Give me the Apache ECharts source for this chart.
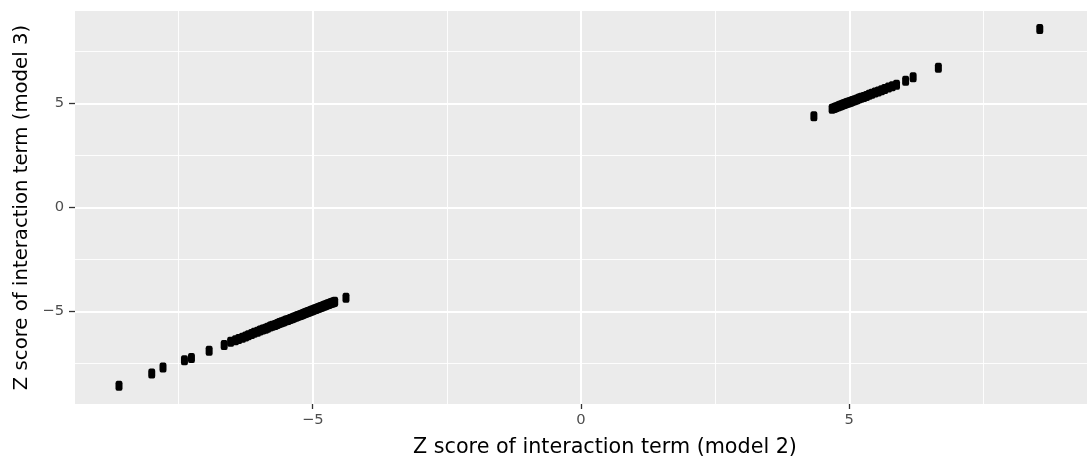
<!DOCTYPE html>
<html>
<head>
<meta charset="utf-8">
<script src="https://cdn.jsdelivr.net/npm/echarts@6/dist/echarts.min.js"></script>
<style>
  html, body { margin: 0; padding: 0; background: #ffffff; }
  #chart { width: 1087px; height: 463px; }
</style>
</head>
<body>
<div id="chart"></div>
<script>
// Z score of interaction term, model 2 (x) and model 3 (y)
const zModel2 = [
  -8.61, -8.00, -7.79, -7.39, -7.26, -6.93, -6.65, -6.53,
  -6.44, -6.38, -6.31, -6.25, -6.20, -6.14, -6.09, -6.03, -5.98, -5.93,
  -5.88, -5.84, -5.79, -5.75, -5.70, -5.66, -5.62, -5.58, -5.54, -5.50,
  -5.46, -5.42, -5.38, -5.35, -5.31, -5.28, -5.24, -5.21, -5.18, -5.15,
  -5.12, -5.09, -5.06, -5.03, -5.00, -4.97, -4.94, -4.91, -4.88, -4.85,
  -4.82, -4.79, -4.76, -4.73, -4.70, -4.67, -4.64, -4.61, -4.59,
  -4.38,
  4.34,
  4.68, 4.72, 4.75, 4.79, 4.82, 4.85, 4.88, 4.91, 4.94, 4.97,
  5.00, 5.03, 5.06, 5.10, 5.14, 5.18, 5.22, 5.27, 5.32, 5.37,
  5.42, 5.48, 5.54, 5.60, 5.66, 5.73, 5.80, 5.88,
  6.05, 6.19, 6.66, 8.55
];
const zModel3 = [
  -8.56, -7.97, -7.69, -7.34, -7.23, -6.88, -6.61, -6.45,
  -6.37, -6.31, -6.25, -6.19, -6.14, -6.08, -6.02, -5.97, -5.91, -5.86,
  -5.82, -5.77, -5.72, -5.68, -5.64, -5.60, -5.55, -5.51, -5.47, -5.43,
  -5.40, -5.36, -5.32, -5.28, -5.25, -5.21, -5.18, -5.15, -5.11, -5.08,
  -5.05, -5.02, -4.99, -4.96, -4.93, -4.90, -4.87, -4.84, -4.81, -4.78,
  -4.75, -4.72, -4.69, -4.66, -4.63, -4.60, -4.57, -4.55, -4.53,
  -4.33,
  4.39,
  4.75, 4.79, 4.82, 4.86, 4.89, 4.92, 4.95, 4.98, 5.01, 5.04,
  5.06, 5.09, 5.12, 5.16, 5.20, 5.24, 5.28, 5.32, 5.37, 5.42,
  5.47, 5.53, 5.58, 5.64, 5.70, 5.77, 5.83, 5.91,
  6.10, 6.26, 6.72, 8.59
];

const xTicks = [-5, 0, 5];
const yTicks = [-5, 0, 5];
const xMinorGrid = [-7.5, -2.5, 2.5, 7.5];
const yMinorGrid = [-7.5, -2.5, 2.5, 7.5];

const xTitle = 'Z score of interaction term (model 2)';
const yTitle = 'Z score of interaction term (model 3)';

const points = zModel2.map((x, i) => [x, zModel3[i]]);
const fmt = v => (v < 0 ? '\u2212' + Math.abs(v) : String(v));
const FONT = '"DejaVu Sans", "Liberation Sans", Arial, sans-serif';

const minorLines = []
  .concat(xMinorGrid.map(v => ({ xAxis: v })))
  .concat(yMinorGrid.map(v => ({ yAxis: v })));
const majorLines = []
  .concat(xTicks.map(v => ({ xAxis: v })))
  .concat(yTicks.map(v => ({ yAxis: v })));

function gridSeries(lines, width) {
  return {
    type: 'scatter', data: [], silent: true, z: 1,
    markLine: {
      silent: true, symbol: ['none', 'none'], animation: false, precision: 4,
      label: { show: false },
      lineStyle: { color: '#FFFFFF', type: 'solid', width: width, opacity: 1 },
      emphasis: { disabled: true, lineStyle: { width: width } },
      data: lines
    }
  };
}

const chart = echarts.init(document.getElementById('chart'), null, { renderer: 'canvas' });
chart.setOption({
  animation: false,
  backgroundColor: '#ffffff',
  grid: {
    left: 75, top: 11, width: 1020, height: 395,
    show: true, backgroundColor: '#EBEBEB', borderWidth: 0
  },
  xAxis: {
    type: 'value', min: -9.43, max: 9.43,
    name: xTitle, nameLocation: 'middle', nameGap: 33,
    nameTextStyle: { color: '#000000', fontSize: 20.7, fontFamily: FONT, padding: [0, 0, 0, 48] },
    axisLine: { show: false, onZero: false },
    axisTick: { show: true, customValues: xTicks, length: 5, lineStyle: { color: '#333333', width: 1.3 } },
    axisLabel: { customValues: xTicks, formatter: fmt, color: '#4D4D4D', fontSize: 14.7, fontFamily: FONT, margin: 9 },
    splitLine: { show: false }
  },
  yAxis: {
    type: 'value', min: -9.44, max: 9.45,
    name: yTitle, nameLocation: 'middle', nameGap: 41,
    nameTextStyle: { color: '#000000', fontSize: 19.7, fontFamily: FONT },
    axisLine: { show: false, onZero: false },
    axisTick: { show: true, customValues: yTicks, length: 6, lineStyle: { color: '#333333', width: 1.3 } },
    axisLabel: { customValues: yTicks, formatter: fmt, color: '#4D4D4D', fontSize: 14.7, fontFamily: FONT, margin: 11 },
    splitLine: { show: false }
  },
  series: [
    gridSeries(minorLines, 0.9),
    gridSeries(majorLines, 2),
    {
      type: 'scatter', zlevel: 1, z: 3,
      data: points,
      symbol: 'roundRect', symbolSize: [7, 10],
      itemStyle: { color: '#000000', opacity: 1 }
    }
  ]
});
</script>
</body>
</html>
